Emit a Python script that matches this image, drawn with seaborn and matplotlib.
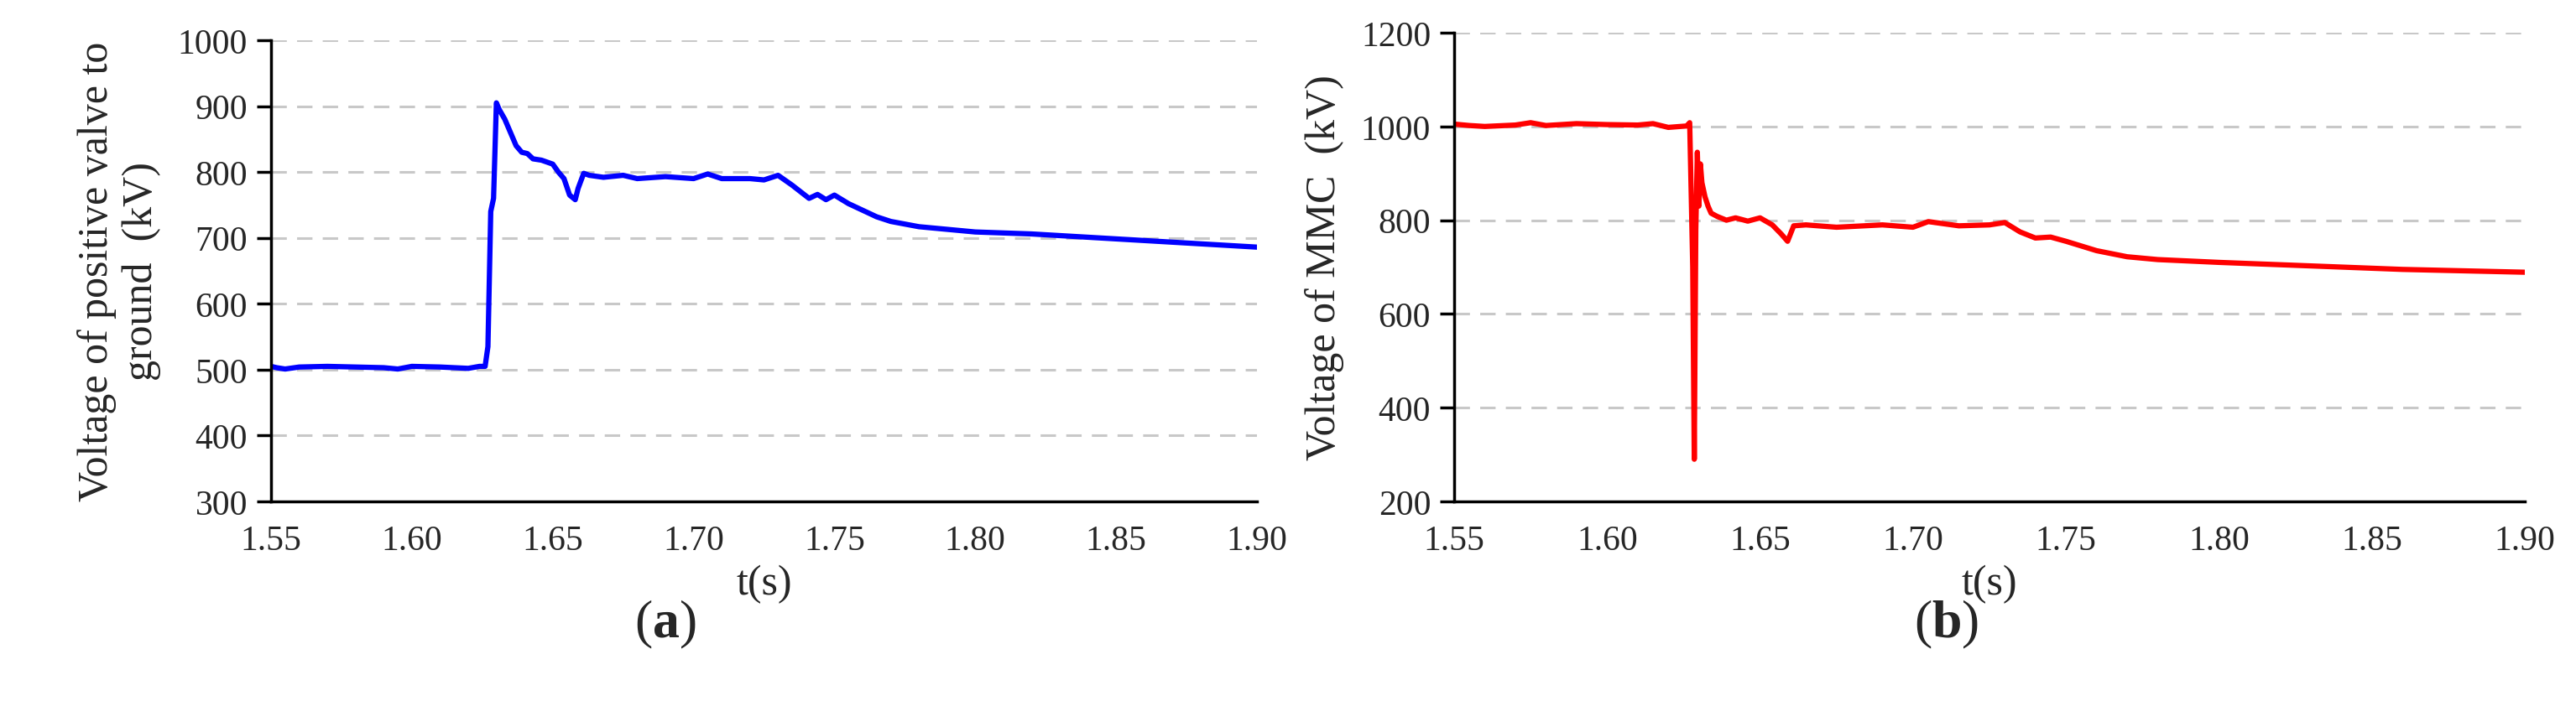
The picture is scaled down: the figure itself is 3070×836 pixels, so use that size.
import matplotlib
matplotlib.use("Agg")
import matplotlib.pyplot as plt
import seaborn as sns
import pandas as pd

# Panel (a): positive valve to ground voltage (kV)
t_a = [1.550, 1.552, 1.555, 1.560, 1.570, 1.580, 1.590, 1.595, 1.600, 1.610, 1.620, 1.624, 1.626,
       1.627, 1.628, 1.629, 1.630, 1.631, 1.633, 1.635, 1.637, 1.639, 1.641, 1.643, 1.646, 1.650,
       1.652, 1.654, 1.656, 1.658, 1.659, 1.661, 1.663, 1.668, 1.675, 1.680, 1.690, 1.700, 1.705,
       1.710, 1.720, 1.725, 1.730, 1.735, 1.738, 1.741, 1.744, 1.747, 1.750, 1.755, 1.760, 1.765,
       1.770, 1.780, 1.790, 1.800, 1.820, 1.840, 1.860, 1.880, 1.900]
v_a = [505, 503, 501, 504, 505, 504, 503, 501, 505, 504, 502, 505, 505,
       535, 740, 760, 905, 895, 880, 860, 840, 830, 828, 820, 818, 812,
       800, 790, 765, 758, 775, 798, 795, 792, 795, 790, 793, 790, 797,
       790, 790, 788, 795, 780, 770, 760, 766, 758, 765, 752, 742, 732,
       725, 717, 713, 709, 706, 701, 696, 691, 686]

# Panel (b): MMC voltage (kV)
t_b = [1.550, 1.555, 1.560, 1.570, 1.575, 1.580, 1.590, 1.600, 1.610, 1.615, 1.620, 1.626, 1.627,
       1.628, 1.6285, 1.629, 1.6295, 1.630, 1.6305, 1.631, 1.632, 1.633, 1.634, 1.636, 1.639, 1.642,
       1.646, 1.650, 1.654, 1.657, 1.659, 1.661, 1.665, 1.675, 1.690, 1.700, 1.705, 1.715, 1.725,
       1.730, 1.735, 1.740, 1.745, 1.750, 1.760, 1.770, 1.780, 1.800, 1.820, 1.840, 1.860, 1.880, 1.900]
v_b = [1005, 1002, 1000, 1003, 1008, 1002, 1006, 1004, 1003, 1006, 998, 1001, 1008,
       700, 290, 780, 945, 830, 920, 880, 850, 830, 815, 808, 800, 805,
       798, 805, 790, 770, 755, 788, 790, 785, 790, 785, 797, 788, 790,
       795, 775, 762, 764, 755, 735, 722, 716, 710, 705, 700, 695, 692, 689]

x_ticks = [1.55, 1.60, 1.65, 1.70, 1.75, 1.80, 1.85, 1.90]

sns.set_theme(style="white")
plt.rcParams['font.family'] = ['Liberation Serif', 'DejaVu Serif']
plt.rcParams['mathtext.fontset'] = 'custom'
plt.rcParams['mathtext.rm'] = 'Liberation Serif'
plt.rcParams['mathtext.bf'] = 'Liberation Serif:bold'

fig = plt.figure(figsize=(30.70, 8.37), dpi=100)
ax_a = fig.add_axes([323 / 3070, 1 - 599 / 837, 1175 / 3070, 550 / 837])
ax_b = fig.add_axes([1733 / 3070, 1 - 599 / 837, 1276 / 3070, 559 / 837])


def style_axes(ax, yticks, ylabel):
    ax.set_xlim(1.55, 1.90)
    ax.set_ylim(yticks[0], yticks[-1])
    ax.set_xticks(x_ticks)
    ax.set_xticklabels([f"{v:.2f}" for v in x_ticks])
    ax.set_yticks(yticks)
    ax.yaxis.grid(True, color="#c8c8c8", linestyle=(0, (6, 4)), linewidth=2.2)
    ax.xaxis.grid(False)
    for side in ["top", "right"]:
        ax.spines[side].set_visible(False)
    for side in ["left", "bottom"]:
        ax.spines[side].set_color("black")
        ax.spines[side].set_linewidth(2.5)
    ax.tick_params(axis="both", labelsize=30, length=12, width=2.5, color="black",
                   direction="out", left=True, bottom=False, pad=8)
    ax.set_xlabel("t(s)", fontsize=36, labelpad=6)
    ax.set_ylabel(ylabel, fontsize=36, labelpad=14)


sns.lineplot(data=pd.DataFrame({"t": t_a, "v": v_a}), x="t", y="v", ax=ax_a,
             color="#0000ff", linewidth=4.5)
style_axes(ax_a, [300, 400, 500, 600, 700, 800, 900, 1000],
           "Voltage of positive valve to\nground  (kV)")

sns.lineplot(data=pd.DataFrame({"t": t_b, "v": v_b}), x="t", y="v", ax=ax_b,
             color="#ff0000", linewidth=4.5)
style_axes(ax_b, [200, 400, 600, 800, 1000, 1200], "Voltage of MMC  (kV)")

fig.text(793 / 3070, 1 - 745 / 837, r"($\mathbf{a}$)", fontsize=46, ha="center", va="center")
fig.text(2320 / 3070, 1 - 745 / 837, r"($\mathbf{b}$)", fontsize=46, ha="center", va="center")

fig.savefig("out.png", dpi=100)
